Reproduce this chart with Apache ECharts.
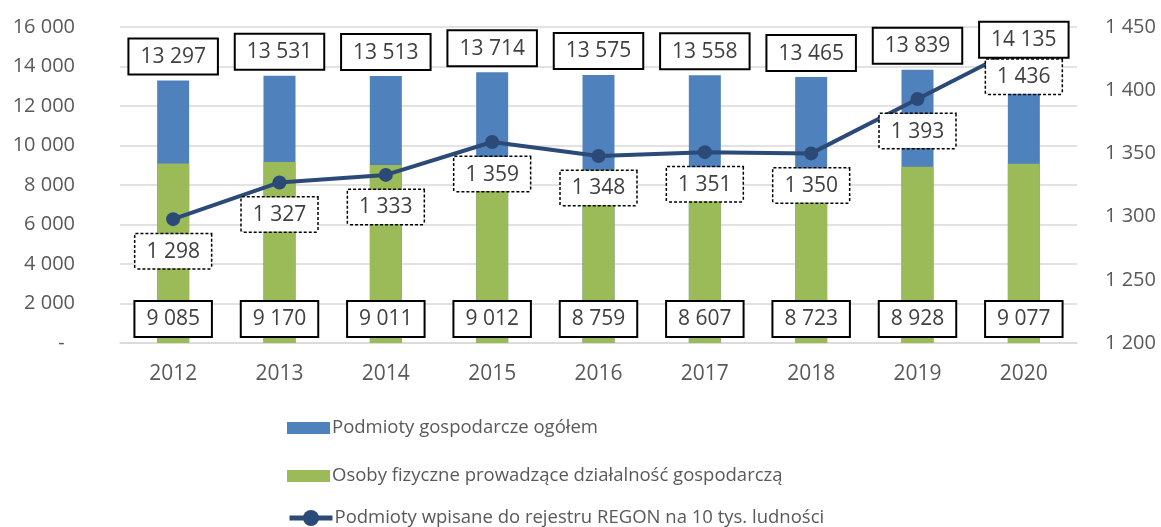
<!DOCTYPE html>
<html>
<head>
<meta charset="utf-8">
<script src="https://cdn.jsdelivr.net/npm/echarts@6/dist/echarts.min.js"></script>
<style>html,body{margin:0;padding:0;background:#fff;}#c{width:1161px;height:527px;}</style>
</head>
<body>
<div id="c"></div>
<script>
const years = ['2012','2013','2014','2015','2016','2017','2018','2019','2020'];
const totalEntities = [13297,13531,13513,13714,13575,13558,13465,13839,14135];
const naturalPersons = [9085,9170,9011,9012,8759,8607,8723,8928,9077];
const regonPer10k = [1298,1327,1333,1359,1348,1351,1350,1393,1436];
const seriesNames = ['Podmioty gospodarcze ogółem','Osoby fizyczne prowadzące działalność gospodarczą','Podmioty wpisane do rejestru REGON na 10 tys. ludności'];

const FONT = 'Open Sans';
function fmt(v){ return String(v).replace(/\B(?=(\d{3})+(?!\d))/g, ' '); }

const boxLabel = {
  show: true, color: '#404040', fontFamily: FONT, fontSize: 21,
  backgroundColor: '#fff', borderColor: '#000', borderWidth: 2,
  padding: [7, 11, 6, 11],
  formatter: p => fmt(p.value)
};

function legendAt(name, top, extra) {
  return Object.assign({
    data: [name], orient: 'vertical', left: 287, top: top, padding: 0,
    itemWidth: 43, itemHeight: 12,
    textStyle: { fontFamily: FONT, fontSize: 18.5, color: '#595959', lineHeight: 20, padding: [0,0,0,-3] }
  }, extra || {});
}

const chart = echarts.init(document.getElementById('c'));
chart.setOption({
  animation: false,
  grid: { left: 120, right: 84, top: 27, bottom: 184, containLabel: false },
  legend: [
    legendAt(seriesNames[0], 418, { icon: 'rect' }),
    legendAt(seriesNames[1], 466, { icon: 'rect' }),
    legendAt(seriesNames[2], 508, { itemHeight: 20, lineStyle: { width: 5 } })
  ],
  xAxis: {
    type: 'category', data: years,
    axisLine: { show: true, lineStyle: { color: '#d9d9d9', width: 1.5 } },
    axisTick: { show: false },
    axisLabel: { color: '#595959', fontFamily: FONT, fontSize: 21, margin: 21 }
  },
  yAxis: [
    {
      type: 'value', min: 0, max: 16000, interval: 2000,
      axisLine: { show: false }, axisTick: { show: false },
      splitLine: { lineStyle: { color: '#d9d9d9', width: 1.5 } },
      axisLabel: { color: '#595959', fontFamily: FONT, fontSize: 20, margin: 45,
        formatter: v => v === 0 ? '-  ' : fmt(v) }
    },
    {
      type: 'value', min: 1200, max: 1450, interval: 50, position: 'right',
      axisLine: { show: false }, axisTick: { show: false }, splitLine: { show: false },
      axisLabel: { color: '#595959', fontFamily: FONT, fontSize: 20, margin: 28,
        formatter: v => fmt(v) }
    }
  ],
  series: [
    {
      name: seriesNames[0], type: 'bar', data: totalEntities, barWidth: 32, barGap: '-100%',
      itemStyle: { color: '#4F81BD' }, z: 2
    },
    {
      name: seriesNames[1], type: 'bar', data: naturalPersons, barWidth: 32, barGap: '-100%',
      itemStyle: { color: '#9BBB59' }, z: 2,
      label: Object.assign({}, boxLabel, { position: 'insideBottom', distance: 7 })
    },
    {
      name: seriesNames[2], type: 'line', yAxisIndex: 1, data: regonPer10k,
      symbol: 'circle', symbolSize: 14,
      lineStyle: { color: '#2C4A78', width: 4 },
      itemStyle: { color: '#2C4A78' }, z: 3,
      label: Object.assign({}, boxLabel, {
        position: 'bottom', distance: 8, borderType: [3, 2], borderWidth: 1.5, borderColor: '#000'
      })
    },
    {
      name: 'totalLabels', type: 'bar', data: totalEntities, barWidth: 32, barGap: '-100%',
      itemStyle: { color: 'rgba(0,0,0,0)' }, z: 5, silent: true,
      label: Object.assign({}, boxLabel, { position: 'top', distance: 7 })
    }
  ]
});
</script>
</body>
</html>
